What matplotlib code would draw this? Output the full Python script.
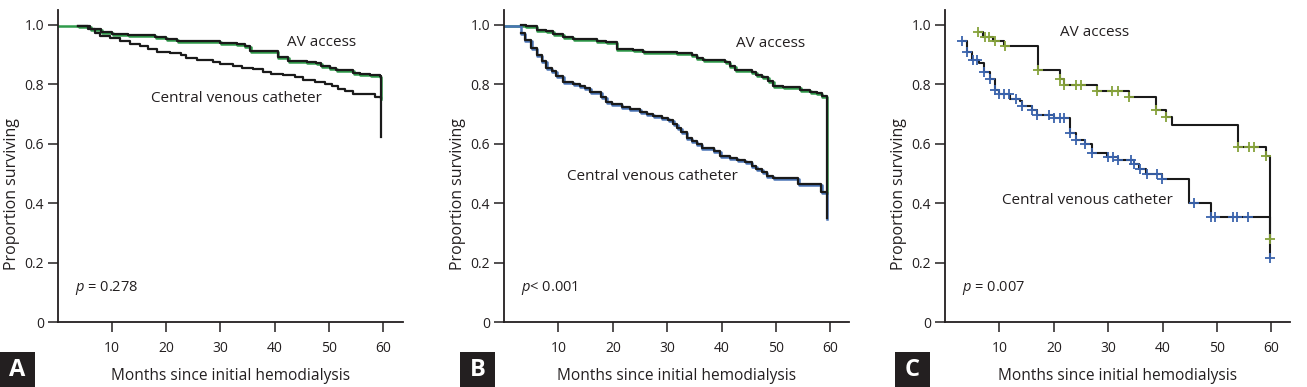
import numpy as np
import matplotlib
matplotlib.use("Agg")
import matplotlib.pyplot as plt
from matplotlib.patches import Rectangle
import matplotlib.transforms as mtransforms

plt.rcParams['font.family'] = ['Open Sans', 'DejaVu Sans']
plt.rcParams['mathtext.fontset'] = 'custom'
plt.rcParams['mathtext.it'] = 'Open Sans:italic'
plt.rcParams['mathtext.rm'] = 'Open Sans'

TXT = '#231f20'

# ---------------- data ----------------
panel_letters = ['A', 'B', 'C']
p_texts = [' = 0.278', '< 0.001', ' = 0.007']
x_ticks = [10, 20, 30, 40, 50, 60]
y_ticks = [0, 0.2, 0.4, 0.6, 0.8, 1.0]
y_tick_labels = ['0', '0.2', '0.4', '0.6', '0.8', '1.0']

# Panel A
a_av_t = [0, 3.7, 6.0, 8.0, 10.0, 13.0, 18.0, 20.0, 22.0, 26.0, 30.0, 33.0, 34.5, 35.5,
          40.6, 42.5, 45.9, 47.7, 48.6, 50.2, 51.4, 54.5, 55.7, 57.6, 59.4, 59.6]
a_av_s = [1.0, 0.995, 0.985, 0.977, 0.970, 0.965, 0.960, 0.952, 0.947, 0.945, 0.940, 0.935,
          0.928, 0.913, 0.891, 0.880, 0.876, 0.870, 0.862, 0.854, 0.848, 0.838, 0.835, 0.832,
          0.828, 0.755]
a_cv_t = [0, 3.7, 5.6, 6.8, 7.7, 9.6, 11.4, 13.3, 15.1, 16.7, 18.2, 20.7, 22.8, 23.7, 25.6,
          28.7, 29.9, 32.3, 33.9, 36.0, 37.9, 39.4, 41.6, 43.7, 45.3, 47.4, 49.3, 50.5, 51.7,
          53.0, 54.5, 58.5, 59.6]
a_cv_s = [1.0, 0.995, 0.985, 0.972, 0.963, 0.955, 0.945, 0.937, 0.928, 0.918, 0.910, 0.905,
          0.898, 0.890, 0.882, 0.876, 0.868, 0.862, 0.855, 0.850, 0.843, 0.835, 0.831, 0.823,
          0.815, 0.808, 0.802, 0.795, 0.785, 0.776, 0.768, 0.758, 0.624]

# Panel B
b_av_t = [0, 3.2, 4.0, 6.0, 7.8, 9.0, 10.9, 12.7, 17.0, 18.8, 20.7, 23.7, 25.6, 31.7, 34.5,
          35.4, 36.6, 40.6, 41.5, 42.5, 45.5, 46.4, 47.4, 48.6, 49.5, 51.3, 54.4, 56.3, 57.5,
          58.4, 59.3]
b_av_s = [1.0, 0.998, 0.995, 0.984, 0.978, 0.968, 0.958, 0.953, 0.947, 0.942, 0.920, 0.915,
          0.910, 0.905, 0.897, 0.887, 0.882, 0.874, 0.860, 0.847, 0.843, 0.832, 0.823, 0.810,
          0.795, 0.790, 0.782, 0.775, 0.770, 0.762, 0.437]
b_cv_t = [0, 3.1, 3.8, 5.0, 6.0, 6.9, 7.8, 8.8, 9.6, 10.9, 12.7, 13.9, 14.8, 15.8, 17.9, 18.8,
          19.8, 21.6, 23.1, 25.0, 26.2, 27.4, 29.0, 30.2, 31.1, 31.8, 32.6, 33.6, 34.5, 35.4,
          36.3, 38.5, 39.7, 41.5, 42.8, 44.3, 45.5, 46.4, 47.4, 48.3, 49.5, 54.1, 58.3, 59.3]
b_cv_s = [1.0, 0.973, 0.948, 0.922, 0.897, 0.878, 0.855, 0.844, 0.827, 0.808, 0.802, 0.795,
          0.787, 0.775, 0.757, 0.742, 0.733, 0.722, 0.716, 0.708, 0.700, 0.694, 0.688, 0.680,
          0.668, 0.652, 0.640, 0.620, 0.610, 0.598, 0.585, 0.575, 0.560, 0.553, 0.545, 0.537,
          0.525, 0.515, 0.505, 0.493, 0.485, 0.465, 0.437, 0.349]

# Panel C
c_av_t = [6.0, 7.0, 8.9, 10.9, 17.1, 21.1, 21.8, 27.9, 33.9, 38.8, 40.7, 41.7, 53.8, 58.9, 59.7]
c_av_s = [0.976, 0.958, 0.945, 0.929, 0.848, 0.818, 0.798, 0.778, 0.757, 0.712, 0.690, 0.663,
          0.588, 0.557, 0.280]
c_av_cens = [6.1, 7.3, 8.1, 9.1, 11.1, 17.1, 21.1, 21.9, 24.0, 25.0, 27.9, 30.7, 31.7, 33.9,
             38.8, 40.7, 53.8, 55.8, 56.7, 58.9, 59.8]
c_cv_t = [3.1, 4.1, 5.0, 6.3, 7.2, 8.3, 9.2, 9.9, 11.9, 13.7, 14.2, 16.0, 16.9, 20.0, 23.0,
          24.0, 25.8, 27.0, 29.8, 31.7, 34.7, 35.6, 36.9, 39.9, 44.9, 48.8, 59.7]
c_cv_s = [0.946, 0.909, 0.881, 0.870, 0.842, 0.818, 0.782, 0.767, 0.750, 0.743, 0.728, 0.712,
          0.697, 0.687, 0.636, 0.613, 0.599, 0.569, 0.556, 0.545, 0.533, 0.515, 0.499, 0.480,
          0.400, 0.354, 0.215]
c_cv_cens = [3.1, 4.1, 5.1, 5.9, 7.2, 8.3, 9.2, 9.9, 10.8, 11.7, 13.1, 14.2, 16.0, 16.9, 19.1,
             20.0, 21.1, 21.8, 23.0, 24.0, 25.8, 27.0, 29.9, 30.9, 31.7, 34.1, 34.8, 35.8, 37.1,
             39.0, 39.9, 45.7, 48.8, 49.7, 52.9, 53.7, 55.6, 59.8]

# label positions (data coords)
av_label_xy = [(42.2, 0.942), (42.7, 0.936), (21.1, 0.973)]
cv_label_xy = [(17.2, 0.752), (11.6, 0.490), (10.4, 0.408)]

GREEN = '#2f9b4a'
BLUE = '#4a74b6'
C_GREEN = '#86a23a'
C_BLUE = '#3a63ad'
LINE = '#1a1a1a'

W, H = 1307, 387
fig = plt.figure(figsize=(W / 100, H / 100), dpi=100)

# axes geometry in pixels: left, width px, xlim max
geo = [(58, 345, 63.7), (504, 345, 63.4), (945, 345, 63.4)]
bottom_px = 65
height_px = 312


def step_val(t, s, q):
    i = np.searchsorted(np.asarray(t), q, side='right') - 1
    i = min(max(i, 0), len(s) - 1)
    return s[i]


axes = []
for k, (lp, wp, xmax) in enumerate(geo):
    ax = fig.add_axes([lp / W, bottom_px / H, wp / W, height_px / H])
    ax.set_xlim(0, xmax)
    ax.set_ylim(0, 1.05)
    for sp in ['top', 'right']:
        ax.spines[sp].set_visible(False)
    for sp in ['left', 'bottom']:
        ax.spines[sp].set_linewidth(1.3)
        ax.spines[sp].set_color('#231f20')
    ax.set_xticks(x_ticks)
    ax.set_xticklabels([str(v) for v in x_ticks])
    ax.set_yticks(y_ticks)
    ax.set_yticklabels(y_tick_labels)
    ax.tick_params(axis='both', direction='out', length=7, width=1.1, colors='#231f20',
                   labelsize=10, labelcolor=TXT)
    ax.tick_params(axis='x', pad=7)
    ax.tick_params(axis='y', pad=3)
    ax.set_xlabel('Months since initial hemodialysis', fontsize=11.2, color=TXT)
    ax.set_ylabel('Proportion surviving', fontsize=11.5, color=TXT)
    ax.xaxis.set_label_coords(0.5, -0.148)
    ax.yaxis.set_label_coords(-0.11, 0.41)
    axes.append(ax)

off = mtransforms.offset_copy

# Panel A
ax = axes[0]
tr = off(ax.transData, fig=fig, x=0.6, y=-1.0, units='dots')
ax.step(a_av_t, a_av_s, where='post', color=GREEN, lw=1.8, transform=tr)
ax.step(a_av_t[1:], a_av_s[1:], where='post', color=LINE, lw=1.6)
ax.step(a_cv_t[1:], a_cv_s[1:], where='post', color=LINE, lw=1.6)

# Panel B
ax = axes[1]
tr = off(ax.transData, fig=fig, x=0.6, y=-1.0, units='dots')
ax.step(b_av_t, b_av_s, where='post', color=GREEN, lw=1.8, transform=tr)
ax.step(b_cv_t, b_cv_s, where='post', color=BLUE, lw=1.8, transform=tr)
ax.step(b_av_t[1:], b_av_s[1:], where='post', color=LINE, lw=1.6)
ax.step(b_cv_t[1:], b_cv_s[1:], where='post', color=LINE, lw=1.6)

# Panel C
ax = axes[2]
ax.step(c_av_t, c_av_s, where='post', color=LINE, lw=1.5)
ax.step(c_cv_t, c_cv_s, where='post', color=LINE, lw=1.5)
ax.plot(c_av_cens, [step_val(c_av_t, c_av_s, q) for q in c_av_cens], ls='none',
        marker='+', ms=6.5, mew=1.3, color=C_GREEN, zorder=5)
ax.plot(c_cv_cens, [step_val(c_cv_t, c_cv_s, q) for q in c_cv_cens], ls='none',
        marker='+', ms=6.5, mew=1.3, color=C_BLUE, zorder=5)

for k, ax in enumerate(axes):
    ax.text(av_label_xy[k][0], av_label_xy[k][1], 'AV access', fontsize=11, color=TXT,
            ha='left', va='center')
    ax.text(cv_label_xy[k][0], cv_label_xy[k][1], 'Central venous catheter', fontsize=11,
            color=TXT, ha='left', va='center')
    ax.text(3.1, 0.115, r'$p$' + p_texts[k], fontsize=10.5, color=TXT,
            ha='left', va='center')

# panel letters
box_x = [0, 460, 895]
for k, bx in enumerate(box_x):
    fig.patches.append(Rectangle((bx / W, 0), 35 / W, 35 / H, transform=fig.transFigure,
                                 facecolor='#231f20', edgecolor='none'))
    fig.text((bx + 17.5) / W, 17.5 / H, panel_letters[k], color='white', fontsize=17,
             fontweight='bold', ha='center', va='center')

fig.savefig('out.png', dpi=100)
